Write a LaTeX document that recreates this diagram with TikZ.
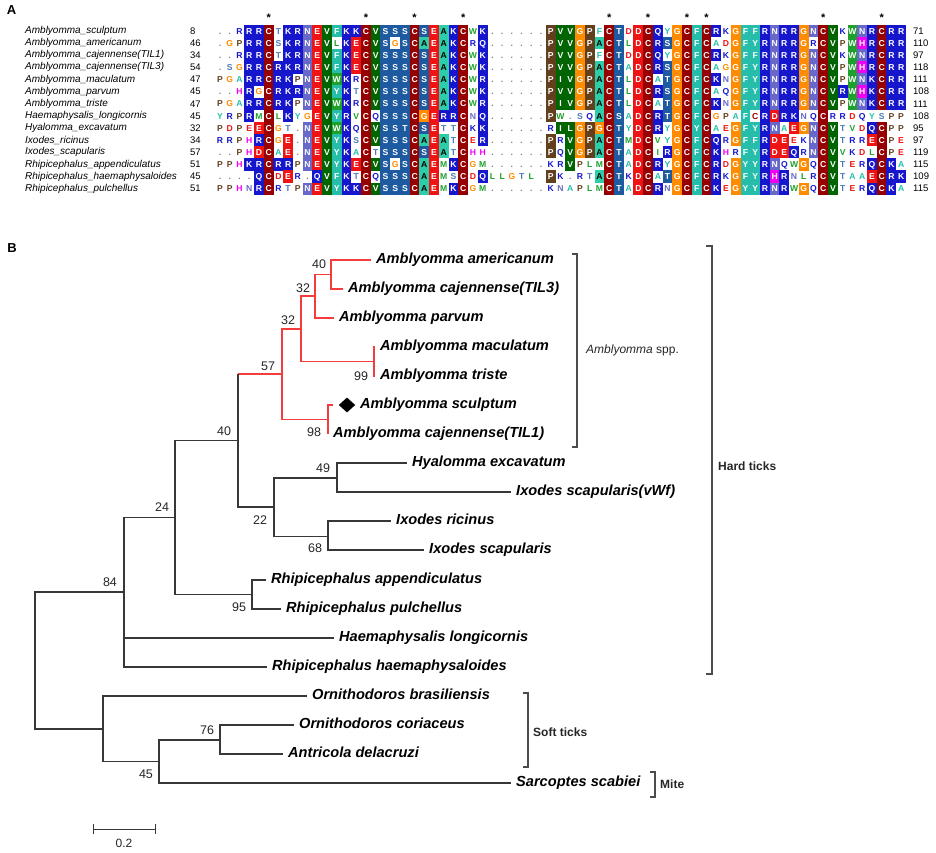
\documentclass[tikz,border=0pt]{standalone}
\usepackage{fontspec}
\setmainfont{Liberation Sans}
\usetikzlibrary{shapes.geometric}

\definecolor{cBlu}{RGB}{22,22,205}
\definecolor{cSla}{RGB}{104,104,200}
\definecolor{cCys}{RGB}{150,0,0}
\definecolor{cRed}{RGB}{238,20,20}
\definecolor{cGrn}{RGB}{0,100,0}
\definecolor{cLgr}{RGB}{30,160,45}
\definecolor{cTea}{RGB}{38,190,170}
\definecolor{cAla}{RGB}{45,205,170}
\definecolor{cSte}{RGB}{30,90,160}
\definecolor{cOra}{RGB}{255,140,0}
\definecolor{cBro}{RGB}{98,64,30}
\definecolor{cMag}{RGB}{240,0,240}
\definecolor{treered}{RGB}{245,60,60}
\definecolor{treegray}{RGB}{55,55,55}

\tikzset{
	bx/.style={fill=#1, text=white},
	tx/.style={text=#1},
	res R/.style={bx=cBlu}, res K/.style={bx=cBlu}, res Q/.style={bx=cBlu},
	res N/.style={bx=cSla}, res C/.style={bx=cCys},
	res E/.style={bx=cRed}, res D/.style={bx=cRed},
	res V/.style={bx=cGrn}, res I/.style={bx=cGrn}, res L/.style={bx=cGrn}, res M/.style={bx=cGrn},
	res W/.style={bx=cLgr}, res F/.style={bx=cTea}, res Y/.style={bx=cTea},
	res A/.style={bx=cAla, text=black},
	res S/.style={bx=cSte}, res T/.style={bx=cSte},
	res G/.style={bx=cOra}, res P/.style={bx=cBro}, res H/.style={bx=cMag},
	res r/.style={tx=cBlu}, res k/.style={tx=cBlu}, res q/.style={tx=cBlu},
	res n/.style={tx=cSla}, res c/.style={tx=cCys},
	res e/.style={tx=cRed}, res d/.style={tx=cRed},
	res v/.style={tx=cLgr}, res i/.style={tx=cLgr}, res l/.style={tx=cLgr}, res m/.style={tx=cLgr},
	res w/.style={tx=cLgr}, res f/.style={tx=cTea}, res y/.style={tx=cTea},
	res a/.style={tx=cTea},
	res s/.style={tx=cSte!80!white}, res t/.style={tx=cSte!80!white},
	res g/.style={tx=cOra}, res p/.style={tx=cBro}, res h/.style={tx=cMag},
	alnbox/.style={inner sep=0pt, minimum width=9.85pt, minimum height=12.3pt,
		text height=6.2pt, text depth=0pt, font=\fontsize{8.6}{9}\selectfont\bfseries},
	alndot/.style={inner sep=0pt, text height=6.2pt, text depth=0pt, text=gray,
		font=\fontsize{8.6}{9}\selectfont\bfseries},
	seqname/.style={anchor=west, inner sep=0pt, font=\fontsize{10}{11}\selectfont\itshape},
	seqnum/.style={anchor=west, inner sep=0pt, font=\fontsize{9.5}{11}\selectfont},
	br/.style={draw=treegray, line width=1.1pt},
	rbr/.style={draw=treered, line width=1.1pt},
	leaf/.style={anchor=west, inner xsep=5pt, inner ysep=0pt, text height=10.5pt, text depth=3pt,
		font=\fontsize{14.6}{16}\selectfont\bfseries\itshape},
	bs/.style={inner sep=0pt, font=\fontsize{12.5}{14}\selectfont, text=black!85},
	grp/.style={anchor=west, inner sep=0pt, font=\fontsize{12}{14}\selectfont\bfseries, text=black!85},
	brk/.style={draw=black!70, line width=1.2pt},
	diam/.style={diamond, fill=black, inner sep=0pt, minimum width=16.5pt, minimum height=15pt}
}

\newcount\alnc
\def\alncell#1{%
	\pgfmathsetmacro\alnx{220+9.73*\the\alnc}%
	\edef\alnname{c\alnr-\the\alnc}%
	\ifx#1.\node[alndot] (\alnname) at (\alnx,\alny) {.};\else
	\ifx#10\else
	\node[alnbox, res #1] (\alnname) at (\alnx,\alny) {\uppercase{#1}};\fi\fi
	\global\advance\alnc by 1\relax}
\def\alnparse#1{\ifx#1\relax\else\alncell#1\expandafter\alnparse\fi}
\newcommand\alnrow[3]{\global\alnc=0\relax\def\alnr{#1}\def\alny{#2}\alnparse#3\relax}

\begin{document}
\begin{tikzpicture}[x=1pt, y=-1pt]
	\useasboundingbox (0,0) rectangle (936,853);

	\node[font=\fontsize{13}{14}\selectfont\bfseries] (labA) at (11.5,10.5) {A};
	\node[font=\fontsize{13}{14}\selectfont\bfseries] (labB) at (12,248) {B};

	\foreach \c in {5,15,20,25,40,44,48,50,62,68}
		\node[font=\fontsize{11}{12}\selectfont\bfseries] (star\c) at (220+9.73*\c,18) {*};

	\alnrow{1}{31}{..rRRCtKRNEVFKKCVSSSCSEAKCwK......PVVGPfCTdDCQyGCFCRkGFFRNRRGNCVkWNRCRR}
	\alnrow{2}{43.13}{.gpRRCsKRNEVlKECVSgSCAEAKCrQ......PVVGPACTlDCRSGCFCadGFYRNRRGrCVpWHRCRR}
	\alnrow{3}{55.26}{..rRRCtKRNEVFKECVSSSCSEAKCwK......PVVGPfCTdDCQyGCFCRkGFFRNRRGNCVkWNRCRR}
	\alnrow{4}{67.39}{.sgRRCRKRNEVFKECVSSSCSEAKCwK......PVVGPACTaDCRSGCFCagGFYRNRRGNCVpWHRCRR}
	\alnrow{5}{79.52}{pgaRRCRKpNEVWKrCVSSSCSEAKCwR......PIVGPACTlDCaTGCFCKnGFYRNRRGNCVpWNKCRR}
	\alnrow{6}{91.65}{..hRgCRKRNEVYKtCVSSSCSEAKCwK......PVVGPACTlDCRSGCFCaqGFYRNRRGNCVRWHKCRR}
	\alnrow{7}{103.78}{pgaRRCRKpNEVWKrCVSSSCSEAKCwR......PIVGPACTlDCaTGCFCKnGFYRNRRGNCVpWNKCRR}
	\alnrow{8}{115.91}{yrpRmClKygEVYRvCqSSSCGERRCnQ......Pw.sqACSaDCRTGCFCgpaFcRDRKnqCrrdqyspp}
	\alnrow{9}{128.04}{pdpeECgt.NEVWKqCVSSTCSEttCkK......rILGPGCTyDCRyGCYCaeGFYRNaEGNCVtvdQCpp}
	\alnrow{10}{140.17}{rrphRCgE.NEVYKsCVSSSCAEAtCeR......PrVGPACTmDCvyGCFCQrGFFRDEekNCVtrrECpe}
	\alnrow{11}{152.3}{..phDCaE.NEVYKaCtSSSCSEAtChh......PqVGPACTaDCiRGCFCKhrFYRDEQrNCVvkdlCpe}
	\alnrow{12}{164.43}{pphKRCRRpNEVYKECVSgSCAEmKCgm......krVplmCTaDCRyGCFCRdGYYRNqwGqCVterQCKa}
	\alnrow{13}{176.56}{....QCdEr.QVFKtCqSSSCAEmsCdQllgtl0Pk.rtACTkDCaTGCFCRkGFYRHRnlrCVtaaECRK}
	\alnrow{14}{188.69}{pphnRCrtpNEVYKKCVSSSCAEmKCgm......knaplmCTaDCRnGCFCKeGYYRNRwGqCVterQCKa}

	\node[seqname] (s1) at (25,31) {Amblyomma\_sculptum};
	\node[seqname] (s2) at (25,43.13) {Amblyomma\_americanum};
	\node[seqname] (s3) at (25,55.26) {Amblyomma\_cajennense(TIL1)};
	\node[seqname] (s4) at (25,67.39) {Amblyomma\_cajennense(TIL3)};
	\node[seqname] (s5) at (25,79.52) {Amblyomma\_maculatum};
	\node[seqname] (s6) at (25,91.65) {Amblyomma\_parvum};
	\node[seqname] (s7) at (25,103.78) {Amblyomma\_triste};
	\node[seqname] (s8) at (25,115.91) {Haemaphysalis\_longicornis};
	\node[seqname] (s9) at (25,128.04) {Hyalomma\_excavatum};
	\node[seqname] (s10) at (25,140.17) {Ixodes\_ricinus};
	\node[seqname] (s11) at (25,152.3) {Ixodes\_scapularis};
	\node[seqname] (s12) at (25,164.43) {Rhipicephalus\_appendiculatus};
	\node[seqname] (s13) at (25,176.56) {Rhipicephalus\_haemaphysaloides};
	\node[seqname] (s14) at (25,188.69) {Rhipicephalus\_pulchellus};

	\foreach \i/\a/\b in {1/8/71, 2/46/110, 3/34/97, 4/54/118, 5/47/111, 6/45/108, 7/47/111,
		8/45/108, 9/32/95, 10/34/97, 11/57/119, 12/51/115, 13/45/109, 14/51/115} {
		\node[seqnum] (st\i) at (190,18.87+12.13*\i) {\a};
		\node[seqnum] (en\i) at (913,18.87+12.13*\i) {\b};
	}

	\coordinate (n40a) at (331,274.5);
	\coordinate (n32a) at (315,296);
	\coordinate (n99) at (374,361.5);
	\coordinate (n32b) at (301,329);
	\coordinate (n98) at (328,419.5);
	\coordinate (n57) at (282,374);
	\coordinate (n49) at (337,478);
	\coordinate (n68) at (328,536.5);
	\coordinate (n22) at (274,507);
	\coordinate (n40b) at (238,440.5);
	\coordinate (n95) at (252,594.5);
	\coordinate (n24) at (175,517.5);
	\coordinate (n84) at (124,592);
	\coordinate (n76) at (220,740);
	\coordinate (n45) at (159,761.5);
	\coordinate (nsoft) at (103,729);
	\coordinate (root) at (35,660.5);
	\coordinate (tsculp) at (333,405);

	\node[leaf] (amer) at (371,260) {Amblyomma americanum};
	\node[leaf] (til3) at (343,289) {Amblyomma cajennense(TIL3)};
	\node[leaf] (parv) at (334,318) {Amblyomma parvum};
	\node[leaf] (macu) at (375,347) {Amblyomma maculatum};
	\node[leaf] (tris) at (375,376) {Amblyomma triste};
	\node[diam] (mark) at (347,405) {};
	\node[leaf] (sculp) at (355,405) {Amblyomma sculptum};
	\node[leaf] (til1) at (328,434) {Amblyomma cajennense(TIL1)};
	\node[leaf] (hyal) at (407,463) {Hyalomma excavatum};
	\node[leaf] (vwf) at (511,492) {Ixodes scapularis(vWf)};
	\node[leaf] (rici) at (391,521) {Ixodes ricinus};
	\node[leaf] (iscp) at (424,550) {Ixodes scapularis};
	\node[leaf] (appe) at (266,580) {Rhipicephalus appendiculatus};
	\node[leaf] (pulc) at (281,609) {Rhipicephalus pulchellus};
	\node[leaf] (long) at (334,638) {Haemaphysalis longicornis};
	\node[leaf] (haem) at (267,667) {Rhipicephalus haemaphysaloides};
	\node[leaf] (bras) at (307,696) {Ornithodoros brasiliensis};
	\node[leaf] (cori) at (294,725) {Ornithodoros coriaceus};
	\node[leaf] (dela) at (283,754) {Antricola delacruzi};
	\node[leaf] (sarc) at (511,783) {Sarcoptes scabiei};

	\draw[rbr] (n40a) |- (amer.west);
	\draw[rbr] (n40a) |- (til3.west);
	\draw[rbr] (n32a) |- (n40a);
	\draw[rbr] (n32a) |- (parv.west);
	\draw[rbr] (n99) |- (macu.west);
	\draw[rbr] (n99) |- (tris.west);
	\draw[rbr] (n32b) |- (n32a);
	\draw[rbr] (n32b) |- (n99);
	\draw[rbr] (n98) |- (tsculp);
	\draw[rbr] (n98) |- (til1.west);
	\draw[rbr] (n57) |- (n32b);
	\draw[rbr] (n57) |- (n98);
	\draw[rbr] (n40b |- n57) -- (n57);
	\draw[br] (n40b |- n57) -- (n40b |- n22) -- (n22);
	\draw[br] (n49) |- (hyal.west);
	\draw[br] (n49) |- (vwf.west);
	\draw[br] (n68) |- (rici.west);
	\draw[br] (n68) |- (iscp.west);
	\draw[br] (n22) |- (n49);
	\draw[br] (n22) |- (n68);
	\draw[br] (n95) |- (appe.west);
	\draw[br] (n95) |- (pulc.west);
	\draw[br] (n24) |- (n40b);
	\draw[br] (n24) |- (n95);
	\draw[br] (n84) |- (n24);
	\draw[br] (n84) |- (long.west);
	\draw[br] (n84) |- (haem.west);
	\draw[br] (n76) |- (cori.west);
	\draw[br] (n76) |- (dela.west);
	\draw[br] (n45) |- (n76);
	\draw[br] (n45) |- (sarc.west);
	\draw[br] (nsoft) |- (bras.west);
	\draw[br] (nsoft) |- (n45);
	\draw[br] (root) |- (n84);
	\draw[br] (root) |- (nsoft);

	\node[bs] (b40a) at (319,264) {40};
	\node[bs] (b32a) at (303,288) {32};
	\node[bs] (b32b) at (288,320) {32};
	\node[bs] (b99) at (361,376) {99};
	\node[bs] (b57) at (268,366) {57};
	\node[bs] (b98) at (314,432) {98};
	\node[bs] (b40b) at (224,431) {40};
	\node[bs] (b49) at (323,468) {49};
	\node[bs] (b22) at (260,520) {22};
	\node[bs] (b68) at (315,548) {68};
	\node[bs] (b24) at (162,507) {24};
	\node[bs] (b95) at (239,607) {95};
	\node[bs] (b84) at (110,582) {84};
	\node[bs] (b76) at (207,730) {76};
	\node[bs] (b45) at (146,774) {45};

	\draw[brk] (572,254) -- (577,254) -- (577,447) -- (572,447);
	\draw[brk] (706,246) -- (712,246) -- (712,674) -- (706,674);
	\draw[brk] (523,693) -- (528,693) -- (528,767) -- (523,767);
	\draw[brk] (650,772) -- (655,772) -- (655,797) -- (650,797);
	\node[grp, font=\fontsize{12}{14}\selectfont] (gamb) at (586,350) {\textit{Amblyomma} spp.};
	\node[grp] (ghard) at (718,466) {Hard ticks};
	\node[grp] (gsoft) at (533,732) {Soft ticks};
	\node[grp] (gmite) at (660,784) {Mite};

	\coordinate (sb1) at (93,829);
	\coordinate (sb2) at (155,829);
	\draw[br, line width=1pt] (sb1) -- (sb2);
	\draw[br, line width=1pt] ([yshift=5pt]sb1) -- ([yshift=-5pt]sb1);
	\draw[br, line width=1pt] ([yshift=5pt]sb2) -- ([yshift=-5pt]sb2);
	\node[bs, font=\fontsize{12}{14}\selectfont] (sblab) at (124,843) {0.2};
\end{tikzpicture}
\end{document}
